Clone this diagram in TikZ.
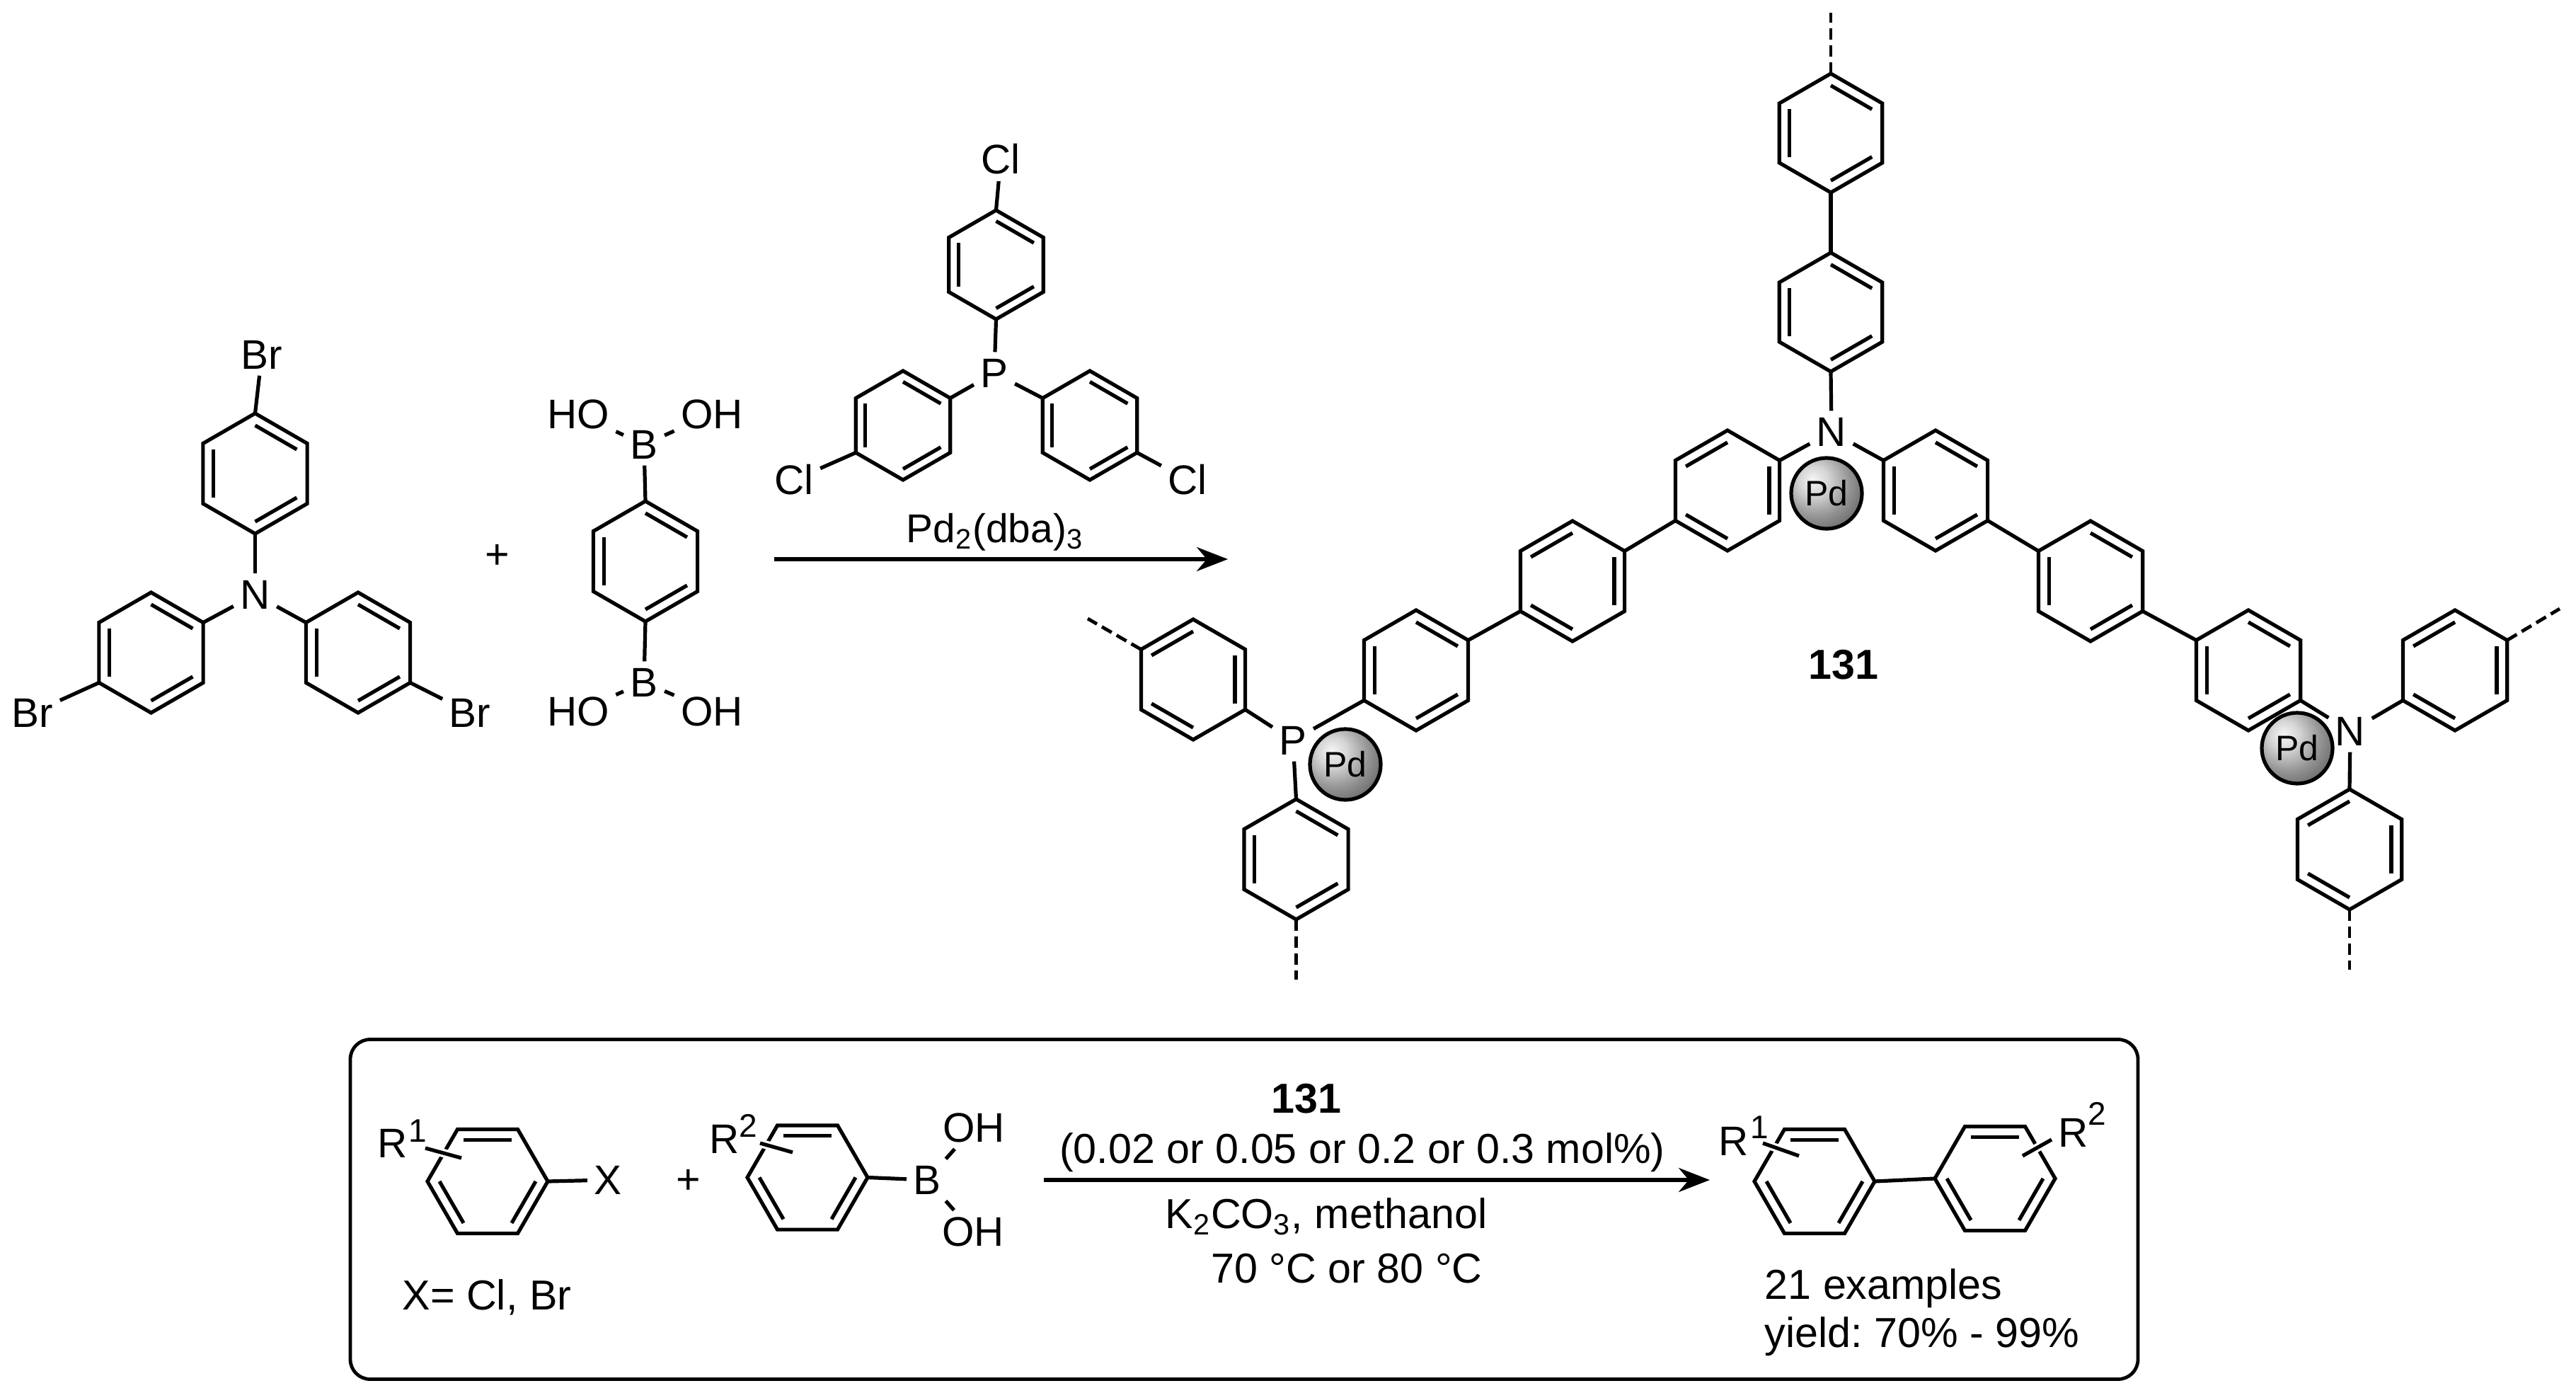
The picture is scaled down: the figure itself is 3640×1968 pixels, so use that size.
\documentclass[tikz,border=0pt]{standalone}
\usepackage{fontspec}
\setmainfont{Liberation Sans}
\frenchspacing
\usetikzlibrary{calc,shadings,arrows.meta}
\pgfdeclareradialshading{pdball}{\pgfpoint{-10bp}{10bp}}{%
  color(0bp)=(black!4);
  color(10bp)=(black!16);
  color(24bp)=(black!42);
  color(38bp)=(black!62);
  color(52bp)=(black!82);
  color(62bp)=(black!95);
  color(100bp)=(black!95)}
\tikzset{
  bond/.style={line width=1.3pt,line join=miter,line cap=butt},
  dashbond/.style={line width=1.2pt,dash pattern=on 4pt off 2pt},
  halo/.style={line width=3pt,white},
  atom/.style={inner sep=2.2pt,font=\fontsize{14.6}{16}\selectfont},
  txt/.style={inner sep=0pt,font=\fontsize{14.8}{16}\selectfont},
  pd/.style={circle,draw=black,line width=1.3pt,minimum size=25pt,inner sep=0pt,
     shading=pdball,font=\fontsize{12.5}{14}\selectfont,text=black},
  arrowline/.style={line width=1.3pt,-{Stealth[length=11pt,width=8.5pt]}},
}
\newcommand{\hexring}[6]{% name cx cy r rot edges
  \begin{scope}[shift={(#2,#3)}]
    \foreach \i/\a in {1/-90,2/-30,3/30,4/90,5/150,6/210}{
      \coordinate (#1-\i) at ({\a+#5}:#4);
      \coordinate (#1-i\i) at ({\a+#5}:{0.8*#4});
    }
  \end{scope}
  \draw[bond] (#1-1)--(#1-2)--(#1-3)--(#1-4)--(#1-5)--(#1-6)--cycle;
  \foreach \p/\q in {#6}{\draw[bond] (#1-i\p)--(#1-i\q);}
}
\begin{document}
\begin{tikzpicture}[x=0.25pt,y=-0.25pt]
\useasboundingbox (0,0) rectangle (3640,1968);
\fill[white] (0,0) rectangle (3640,1968);

% --- tris(4-bromophenyl)amine
\hexring{la}{360.5}{669}{85}{0}{1/2,3/4,5/6}
\hexring{lb}{213.5}{922}{85}{0}{1/2,3/4,5/6}
\hexring{lc}{506}{922}{85}{0}{1/2,3/4,5/6}
\node[atom] (lN) at (360.5,840) {N};
\node[atom] (lBr1) at (370,501) {Br};
\node[atom] (lBr2) at (46,1007) {Br};
\node[atom] (lBr3) at (664,1007) {Br};
\draw[bond] (la-1)--(lBr1);
\draw[bond] (la-4)--(lN);
\draw[bond] (lb-2)--(lN);
\draw[bond] (lc-6)--(lN);
\draw[bond] (lb-5)--(lBr2);
\draw[bond] (lc-3)--(lBr3);
\node[txt] (plus1) at (703,786) {+};

% --- diboronic acid
\hexring{bo}{912}{793}{85}{0}{1/2,3/4,5/6}
\node[atom] (bB1) at (910,628) {B};
\node[atom] (bB2) at (910,964) {B};
\node[atom] (bHO1) at (817,585) {HO};
\node[atom] (bOH1) at (1006,585) {OH};
\node[atom] (bHO2) at (817,1005) {HO};
\node[atom] (bOH2) at (1006,1005) {OH};
\draw[bond] (bo-1)--(bB1);
\draw[bond] (bo-4)--(bB2);
\draw[bond] (bB1)--(bHO1);
\draw[bond] (bB1)--(bOH1);
\draw[bond] (bB2)--(bHO2);
\draw[bond] (bB2)--(bOH2);

% --- phosphine ligand
\hexring{pa}{1407.5}{374}{77}{0}{1/2,3/4,5/6}
\hexring{pb}{1276}{601}{77}{0}{1/2,3/4,5/6}
\hexring{pc}{1540}{601}{77}{0}{1/2,3/4,5/6}
\node[atom] (pP) at (1405,527) {P};
\node[atom] (pCl1) at (1414,225) {Cl};
\node[atom] (pCl2) at (1122,678) {Cl};
\node[atom] (pCl3) at (1678,678) {Cl};
\draw[bond] (pa-1)--(pCl1);
\draw[bond] (pa-4)--(pP);
\draw[bond] (pb-2)--(pP);
\draw[bond] (pc-6)--(pP);
\draw[bond] (pb-5)--(pCl2);
\draw[bond] (pc-3)--(pCl3);
\node[txt,font=\fontsize{14.2}{16}\selectfont] (pdcat) at (1406,752) {Pd$_{\mathrm{2}}$(dba)$_{\mathrm{3}}$};
\coordinate (a1s) at (1094,790);
\coordinate (a1e) at (1735,790);
\draw[arrowline] (a1s)--(a1e);

% --- polymer 131
\hexring{t1}{2587}{188}{84}{0}{1/2,3/4,5/6}
\hexring{t2}{2587}{441}{84}{0}{1/2,3/4,5/6}
\node[atom] (cN) at (2588,610) {N};
\coordinate (t0) at (2587,18);
\draw[dashbond] (t1-1)--(t0);
\draw[bond] (t1-4)--(t2-1);
\draw[bond] (t2-4)--(cN);
\hexring{l1}{2441}{693}{85}{0}{2/3,4/5,6/1}
\hexring{l2}{2222}{821}{85}{0}{2/3,4/5,6/1}
\hexring{l3}{2001}{947}{85}{0}{1/2,3/4,5/6}
\draw[bond] (l1-2)--(cN);
\draw[bond] (l1-5)--(l2-2);
\draw[bond] (l2-5)--(l3-2);
\hexring{r1}{2735}{693}{85}{0}{1/2,3/4,5/6}
\hexring{r2}{2954}{821}{85}{0}{1/2,3/4,5/6}
\hexring{r3}{3177}{947}{85}{0}{1/2,3/4,5/6}
\draw[bond] (r1-6)--(cN);
\draw[bond] (r1-3)--(r2-6);
\draw[bond] (r2-3)--(r3-6);
\node[pd] (pd1) at (2581,697) {Pd};

\node[atom] (qP) at (1827,1046) {P};
\hexring{q1}{1686}{960}{85}{0}{2/3,4/5,6/1}
\hexring{q2}{1831.5}{1214}{85}{0}{1/2,3/4,5/6}
\coordinate (q1e) at (1537,874);
\coordinate (q2e) at (1831.5,1384);
\draw[dashbond] (q1-6)--(q1e);
\draw[dashbond] (q2-4)--(q2e);
\draw[bond] (q1-3)--(qP);
\draw[bond] (q2-1)--(qP);
\draw[bond] (l3-5)--(qP);
\node[pd] (pd2) at (1901,1080) {Pd};

\node[atom] (sN) at (3321,1033) {N};
\hexring{s1}{3469}{947}{85}{0}{2/3,4/5,6/1}
\hexring{s2}{3320}{1200}{85}{0}{2/3,4/5,6/1}
\coordinate (s1e) at (3617,860);
\coordinate (s2e) at (3320,1370);
\draw[dashbond] (s1-2)--(s1e);
\draw[dashbond] (s2-4)--(s2e);
\draw[bond] (r3-3)--(sN);
\draw[bond] (s1-5)--(sN);
\draw[bond] (s2-1)--(sN);
\node[pd] (pd3) at (3246,1057) {Pd};
\node[txt,font=\fontsize{14.8}{16}\selectfont\bfseries] (n131) at (2605,939) {131};

% --- box
\node[draw,line width=1.2pt,rounded corners=7pt,minimum width=631.5pt,minimum height=120pt,inner sep=0pt] (box) at (1758,1708.5) {};

% aryl halide
\hexring{ba}{689}{1669}{85}{-30}{1/2,3/4,5/6}
\node[atom] (bX) at (859,1667) {X};
\draw[bond] (ba-3)--(bX);
\node[inner sep=0pt] (bR1) at (555,1615) {\fontsize{14.6}{16}\selectfont R};
\node[inner sep=0pt] (bR1s) at (590,1598) {\fontsize{11.5}{12}\selectfont 1};
\coordinate (ba1) at (601,1622);
\coordinate (ba2) at (652,1636);
\draw[halo] (ba1)--(ba2);
\draw[bond] (ba1)--(ba2);
\node[txt] (plus2) at (973,1669) {+};
\node[txt] (xeq) at (688,1833) {X= Cl, Br};

% boronic acid
\hexring{bc}{1141}{1663.5}{85}{-30}{1/2,3/4,5/6}
\node[atom] (cB) at (1310,1667) {B};
\node[atom] (cOH1) at (1376,1593) {OH};
\node[atom] (cOH2) at (1375,1740) {OH};
\draw[bond] (bc-3)--(cB);
\draw[bond] (cB)--(cOH1);
\draw[bond] (cB)--(cOH2);
\node[inner sep=0pt] (bR2) at (1024,1609) {\fontsize{14.6}{16}\selectfont R};
\node[inner sep=0pt] (bR2s) at (1057,1590) {\fontsize{11.5}{12}\selectfont 2};
\coordinate (bc1) at (1074,1615);
\coordinate (bc2) at (1120,1628);
\draw[halo] (bc1)--(bc2);
\draw[bond] (bc1)--(bc2);

% arrow and conditions
\coordinate (a2s) at (1475,1667);
\coordinate (a2e) at (2416,1667);
\draw[arrowline] (a2s)--(a2e);
\node[txt,font=\fontsize{14.8}{16}\selectfont\bfseries,anchor=base] (c131) at (1846,1572) {131};
\node[txt,anchor=base] (c1) at (1925,1643) {(0.02 or 0.05 or 0.2 or 0.3 mol\%)};
\node[txt,anchor=base] (c2) at (1874,1735) {K$_{\mathrm{2}}$CO$_{\mathrm{3}}$, methanol};
\node[txt,anchor=base] (c3) at (1903,1812) {70 °C or 80 °C};

% product
\hexring{pl}{2564}{1669}{85}{-30}{1/2,3/4,5/6}
\hexring{pr}{2819}{1665}{85}{-30}{1/2,3/4,5/6}
\draw[bond] (pl-3)--(pr-6);
\node[inner sep=0pt] (pR1) at (2450,1612) {\fontsize{14.6}{16}\selectfont R};
\node[inner sep=0pt] (pR1s) at (2486,1593) {\fontsize{11.5}{12}\selectfont 1};
\coordinate (pl1) at (2491,1615);
\coordinate (pl2) at (2542,1633);
\draw[halo] (pl1)--(pl2);
\draw[bond] (pl1)--(pl2);
\node[inner sep=0pt] (pR2) at (2930,1600) {\fontsize{14.6}{16}\selectfont R};
\node[inner sep=0pt] (pR2s) at (2963,1573) {\fontsize{11.5}{12}\selectfont 2};
\coordinate (pr1) at (2899,1610);
\coordinate (pr2) at (2858,1633);
\draw[halo] (pr1)--(pr2);
\draw[bond] (pr1)--(pr2);
\node[txt,anchor=base west] (ex) at (2493,1835) {21 examples};
\node[txt,anchor=base west] (yi) at (2493,1903) {yield: 70\% - 99\%};
\end{tikzpicture}
\end{document}
